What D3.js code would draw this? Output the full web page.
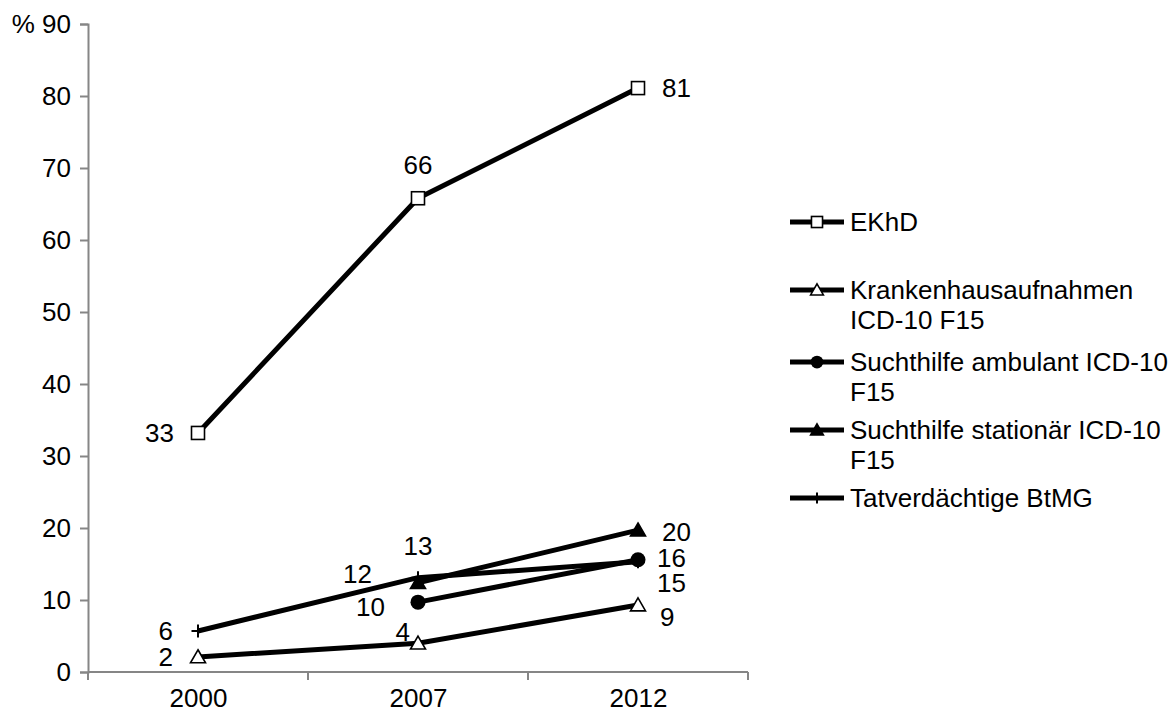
<!DOCTYPE html>
<html>
<head>
<meta charset="utf-8">
<script src="https://cdn.jsdelivr.net/npm/d3@7"></script>
<style>
  html, body { margin: 0; padding: 0; background: #fff; }
  svg { display: block; }
  text { font-family: "Liberation Sans", Arial, sans-serif; fill: #000; }
</style>
</head>
<body>
<svg id="chart" width="1176" height="713"></svg>
<script>
// Years on the category axis
const years = ["2000", "2007", "2012"];

// Series names (legend text, already split into lines)
const seriesNames = [
  ["EKhD"],
  ["Krankenhausaufnahmen", "ICD-10 F15"],
  ["Suchthilfe ambulant ICD-10", "F15"],
  ["Suchthilfe stationär ICD-10", "F15"],
  ["Tatverdächtige BtMG"]
];

// Values in percent (null = no value for that year)
const ekhd = [33.2, 65.8, 81.1];
const krankenhaus = [2.1, 4.0, 9.3];
const ambulant = [null, 9.7, 15.6];
const stationaer = [null, 12.4, 19.7];
const tatverdaechtige = [5.7, 13.1, 15.3];

// Y-axis tick values
const yTicks = [0, 10, 20, 30, 40, 50, 60, 70, 80, 90];

const seriesValues = [ekhd, krankenhaus, ambulant, stationaer, tatverdaechtige];
const markerKinds = ["squareOpen", "triangleOpen", "circle", "triangle", "plus"];

// Data label placement per series and point: [dx, dy, anchor]
const labelPlacement = [
  [[-24, 0, "end"], [0, -33, "middle"], [24, 0, "start"]],
  [[-25, 0, "end"], [-8, -11, "end"], [22, 12, "start"]],
  [null, [-33, 5, "end"], [19, -2, "start"]],
  [null, [-46, -9, "end"], [24, 2, "start"]],
  [[-25, 0, "end"], [0, -32, "middle"], [19, 21, "start"]]
];

const svg = d3.select("#chart");
const fontSize = 26;
const axisColor = "#868686";

const plot = { left: 88, right: 748, top: 24, bottom: 672 };

const y = d3.scaleLinear().domain([0, 90]).range([plot.bottom, plot.top]);
const xBand = d3.scaleBand().domain(years).range([plot.left, plot.right]).padding(0);
const x = d3.scalePoint().domain(years).range([plot.left, plot.right]).padding(0.5);

// Y axis
const yAxis = svg.append("g")
  .attr("transform", `translate(${plot.left},0)`)
  .call(d3.axisLeft(y).tickValues(yTicks).tickSize(8).tickPadding(9)
    .tickFormat(d => d === 90 ? "% 90" : String(d)));
yAxis.select(".domain").attr("stroke", axisColor).attr("stroke-width", 2);
yAxis.selectAll(".tick line").attr("stroke", axisColor).attr("stroke-width", 2);
yAxis.selectAll(".tick text")
  .attr("font-size", fontSize)
  .attr("font-family", "Liberation Sans, Arial, sans-serif")
  .attr("fill", "#000");

// X axis: labels at category centres, tick marks at category boundaries
const xAxis = svg.append("g")
  .attr("transform", `translate(0,${plot.bottom})`)
  .call(d3.axisBottom(x).tickSize(0).tickPadding(0));
xAxis.select(".domain").remove();
xAxis.selectAll(".tick text")
  .attr("y", 35)
  .attr("dy", 0)
  .attr("font-size", fontSize)
  .attr("font-family", "Liberation Sans, Arial, sans-serif")
  .attr("fill", "#000");

const boundaries = years.map(d => xBand(d)).concat([plot.right]);
svg.append("line")
  .attr("x1", plot.left).attr("x2", plot.right)
  .attr("y1", plot.bottom).attr("y2", plot.bottom)
  .attr("stroke", axisColor).attr("stroke-width", 2);
svg.append("g").selectAll("line").data(boundaries).join("line")
  .attr("x1", d => d).attr("x2", d => d)
  .attr("y1", plot.bottom).attr("y2", plot.bottom + 8)
  .attr("stroke", axisColor).attr("stroke-width", 2);

// Marker drawing
function drawMarker(g, kind, cx, cy, scale) {
  const s = scale || 1;
  if (kind === "squareOpen") {
    const h = 6.5 * s;
    g.append("rect").attr("x", cx - h).attr("y", cy - h)
      .attr("width", 2 * h).attr("height", 2 * h)
      .attr("fill", "#fff").attr("stroke", "#000").attr("stroke-width", 1.6);
  } else if (kind === "triangleOpen" || kind === "triangle") {
    const w = 7.5 * s, h = 13 * s;
    const pts = [[cx, cy - h * 0.55], [cx + w, cy + h * 0.45], [cx - w, cy + h * 0.45]];
    g.append("path").attr("d", d3.line()(pts) + "Z")
      .attr("fill", kind === "triangle" ? "#000" : "#fff")
      .attr("stroke", "#000").attr("stroke-width", 1.6);
  } else if (kind === "circle") {
    g.append("circle").attr("cx", cx).attr("cy", cy).attr("r", 7.5 * s)
      .attr("fill", "#000");
  } else if (kind === "plus") {
    const h = 6.5 * s;
    g.append("path")
      .attr("d", `M${cx - h},${cy}H${cx + h}M${cx},${cy - h}V${cy + h}`)
      .attr("stroke", "#000").attr("stroke-width", 2);
  }
}

// Series lines and markers
const lineGen = d3.line()
  .defined(d => d.v != null)
  .x(d => x(d.year))
  .y(d => y(d.v));

seriesValues.forEach((vals, i) => {
  const pts = vals.map((v, j) => ({ year: years[j], v }));
  const g = svg.append("g");
  g.append("path").datum(pts)
    .attr("d", lineGen)
    .attr("fill", "none")
    .attr("stroke", "#000")
    .attr("stroke-width", 5)
    .attr("stroke-linejoin", "round");
  pts.filter(p => p.v != null).forEach(p => {
    drawMarker(g, markerKinds[i], x(p.year), y(p.v));
  });
});

// Data labels
seriesValues.forEach((vals, i) => {
  vals.forEach((v, j) => {
    if (v == null) return;
    const pl = labelPlacement[i][j];
    svg.append("text")
      .attr("x", x(years[j]) + pl[0])
      .attr("y", y(v) + pl[1])
      .attr("dy", "0.35em")
      .attr("text-anchor", pl[2])
      .attr("font-size", fontSize)
      .text(d3.format(".0f")(v));
  });
});

// Legend
const legendRows = [222, 290, 362, 430, 498];
const legend = svg.append("g");
seriesNames.forEach((lines, i) => {
  const cy = legendRows[i];
  legend.append("line")
    .attr("x1", 790).attr("x2", 844)
    .attr("y1", cy).attr("y2", cy)
    .attr("stroke", "#000").attr("stroke-width", 5);
  drawMarker(legend, markerKinds[i], 817, cy, 0.85);
  const t = legend.append("text")
    .attr("x", 850).attr("y", cy)
    .attr("font-size", fontSize);
  lines.forEach((ln, k) => {
    t.append("tspan").attr("x", 850).attr("dy", k === 0 ? "0.35em" : 30).text(ln);
  });
});
</script>
</body>
</html>
